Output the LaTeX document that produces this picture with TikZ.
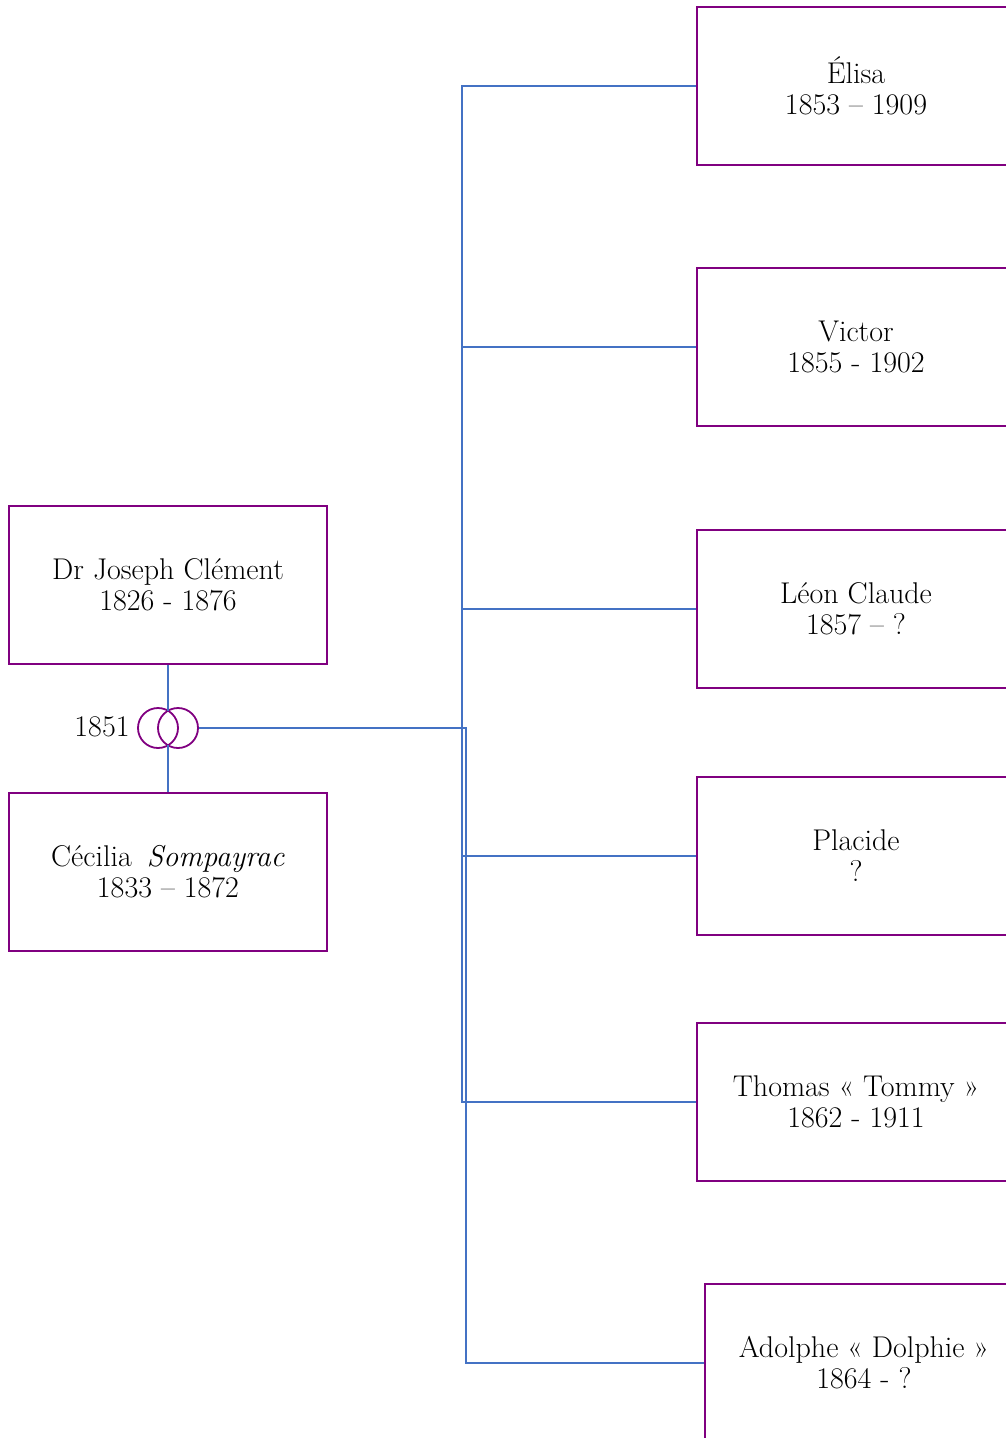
\documentclass[tikz,border=0pt]{standalone}
\usepackage{tikz}
\definecolor{deep purple}{rgb}{0.5020, 0.0000, 0.5020}
\definecolor{deep blue}{rgb}{0.2667, 0.4471, 0.7686}
\tikzset{
	person/.style = {draw = deep purple, line width = 2pt, fill = white,
		minimum width = 318pt, minimum height = 158pt, inner sep = 0pt,
		align = center, font = \fontsize{30}{31}\selectfont},
	ring/.style = {circle, draw = deep purple, line width = 1.8pt,
		minimum size = 40pt, inner sep = 0pt},
	link/.style = {draw = deep blue, line width = 1.8pt}
}

\begin{document}
\begin{tikzpicture}[x = 1pt, y = -1pt]
		\useasboundingbox (0, 0) rectangle (1006, 1438);
		\clip (0, 0) rectangle (1006, 1438);
		% part for the parents
		\begin{scope}
			\node[person] (joseph) at (168, 585) {Dr Joseph Clément\\1826 - 1876};
			\node[person] (cecilia) at (168, 872) {Cécilia\enspace\textit{Sompayrac}\\1833 -- 1872};
			\node[ring] (ringL) at (158, 728) {};
			\node[ring] (ringR) at (178, 728) {};
			\node[font = \fontsize{30}{31}\selectfont] (wedding) at (102, 727) {1851};
			\coordinate (lensN) at (168, 711);
			\coordinate (lensS) at (168, 745);
			\draw[link] (joseph.south) -- (lensN) (lensS) -- (cecilia.north);
		\end{scope}
		% part for the children
		\begin{scope}
			\node[person] (elisa) at (856, 86) {Élisa\\1853 -- 1909};
			\node[person] (victor) at (856, 347) {Victor\\1855 - 1902};
			\node[person] (leon) at (856, 609) {Léon Claude\\1857 -- ?};
			\node[person] (placide) at (856, 856) {Placide\\?};
			\node[person] (thomas) at (856, 1102) {Thomas « Tommy »\\1862 - 1911};
			\node[person] (adolphe) at (864, 1363) {Adolphe « Dolphie »\\1864 - ?};
		\end{scope}
		% links from the rings
		\coordinate (fork) at (462, 728);
		\coordinate (forkB) at (466, 728);
		\foreach \child in {elisa, victor, leon, placide, thomas}
			\draw[link] (ringR.east) -- (fork) |- (\child.west);
		\draw[link] (ringR.east) -- (forkB) |- (adolphe.west);
	\end{tikzpicture}
\end{document}
